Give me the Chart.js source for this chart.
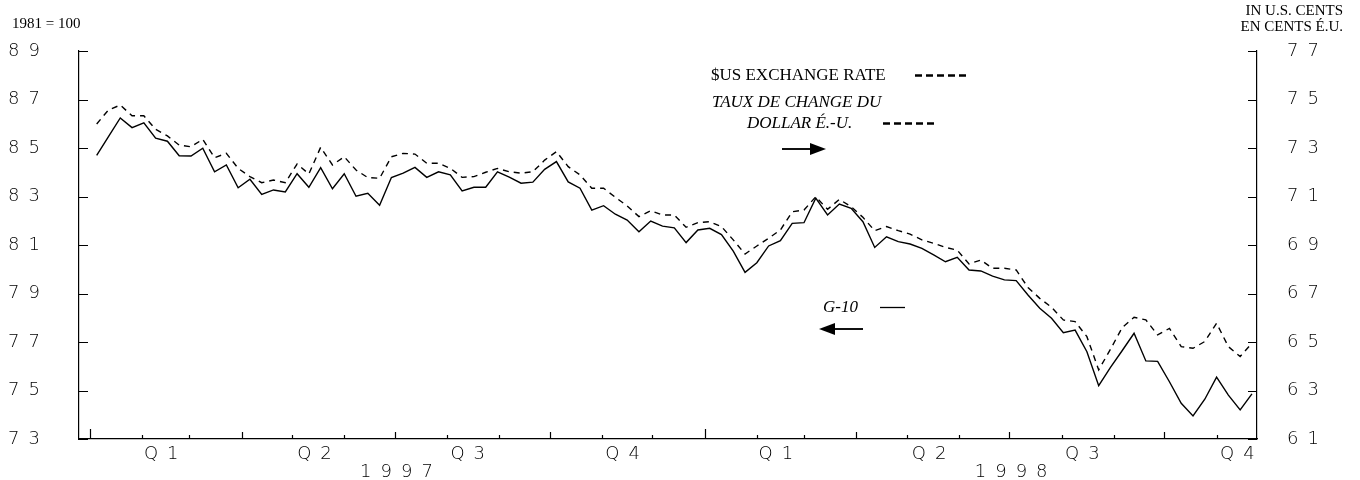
<!DOCTYPE html>
<html>
<head>
<meta charset="utf-8">
<script src="https://cdn.jsdelivr.net/npm/chart.js@4.4.1/dist/chart.umd.min.js"></script>
<style>
  html, body { margin: 0; padding: 0; background: #fff; }
  #wrap { width: 1360px; height: 480px; position: relative; }
</style>
</head>
<body>
<div id="wrap"><canvas id="chart"></canvas></div>
<script>
// G-10 index, 1981 = 100 (left axis), weekly
const g10 = [
  84.70, 85.47, 86.24, 85.84, 86.04, 85.41, 85.28, 84.68, 84.67, 84.99,
  84.02, 84.30, 83.36, 83.71, 83.09, 83.27, 83.19, 83.94, 83.38, 84.19,
  83.32, 83.94, 83.01, 83.13, 82.64, 83.78, 83.96, 84.20, 83.79, 84.02,
  83.89, 83.23, 83.38, 83.38, 84.02, 83.80, 83.55, 83.59, 84.12, 84.44,
  83.60, 83.34, 82.44, 82.62, 82.27, 82.03, 81.55, 81.99, 81.78, 81.71,
  81.10, 81.62, 81.69, 81.43, 80.75, 79.87, 80.27, 80.96, 81.18, 81.89,
  81.92, 82.93, 82.24, 82.69, 82.51, 81.96, 80.90, 81.34, 81.14, 81.04,
  80.86, 80.59, 80.31, 80.49, 79.97, 79.93, 79.72, 79.56, 79.53, 78.94,
  78.39, 77.98, 77.38, 77.49, 76.60, 75.20, 75.95, 76.65, 77.36, 76.22,
  76.20, 75.36, 74.47, 73.95, 74.64, 75.55, 74.81, 74.20, 74.86
];

// $US exchange rate in U.S. cents (right axis), weekly
const usd = [
  73.99, 74.57, 74.77, 74.33, 74.33, 73.77, 73.50, 73.12, 73.05, 73.36,
  72.60, 72.78, 72.16, 71.82, 71.57, 71.68, 71.57, 72.34, 71.93, 73.03,
  72.30, 72.64, 72.09, 71.78, 71.75, 72.64, 72.78, 72.75, 72.37, 72.37,
  72.16, 71.79, 71.82, 72.00, 72.16, 72.02, 71.96, 72.02, 72.50, 72.85,
  72.23, 71.89, 71.34, 71.34, 70.97, 70.61, 70.17, 70.41, 70.24, 70.24,
  69.73, 69.92, 69.96, 69.76, 69.21, 68.63, 68.96, 69.28, 69.62, 70.37,
  70.44, 70.99, 70.47, 70.88, 70.58, 70.14, 69.59, 69.76, 69.59, 69.45,
  69.21, 69.07, 68.90, 68.79, 68.22, 68.38, 68.04, 68.04, 67.97, 67.25,
  66.80, 66.43, 65.91, 65.84, 65.22, 63.85, 64.70, 65.60, 66.02, 65.91,
  65.29, 65.56, 64.81, 64.74, 65.02, 65.77, 64.81, 64.40, 64.95
];

// time axis in days from 1 Jan 1997
const FIRST_DAY = 4;
const WEEK = 7;
const monthStarts = [0, 31, 59, 90, 120, 151, 181, 212, 243, 273, 304, 334,
  365, 396, 424, 455, 485, 516, 546, 577, 608, 638, 669];
const quarterStarts = [0, 90, 181, 273, 365, 455, 546, 638];
const quarterMids = [45, 136, 227, 319, 410, 501, 592, 684];
const quarterLabels = ["Q1", "Q2", "Q3", "Q4", "Q1", "Q2", "Q3", "Q4"];
const yearStarts = [0, 365];
const yearMids = [182, 547];
const yearLabels = ["1997", "1998"];

const SPACING = 9;
const tickFont = { family: "'DejaVu Sans', sans-serif", size: 18, weight: 300 };

const toPoints = (arr) => arr.map((v, i) => ({ x: FIRST_DAY + WEEK * i, y: v }));

function arrow(ctx, x1, x2, y, dir) {
  // dir 1 = pointing right, -1 = pointing left; x2 is the tip
  ctx.beginPath();
  ctx.moveTo(x1, y);
  ctx.lineTo(x2 - dir * 14, y);
  ctx.lineWidth = 2;
  ctx.strokeStyle = "#111";
  ctx.stroke();
  ctx.beginPath();
  ctx.moveTo(x2, y);
  ctx.lineTo(x2 - dir * 16, y - 6);
  ctx.lineTo(x2 - dir * 16, y + 6);
  ctx.closePath();
  ctx.fillStyle = "#000";
  ctx.fill();
}

const decor = {
  id: "decor",
  beforeDraw(chart) {
    chart.ctx.letterSpacing = SPACING + "px";
  },
  afterDraw(chart) {
    const { ctx, chartArea: a, scales } = chart;
    ctx.save();
    ctx.letterSpacing = "0px";
    ctx.strokeStyle = "#000";
    ctx.lineWidth = 1.2;

    // inward y ticks
    ctx.beginPath();
    scales.y.ticks.forEach(t => {
      const y = Math.round(scales.y.getPixelForValue(t.value)) + 0.5;
      ctx.moveTo(a.left, y); ctx.lineTo(a.left + 9, y);
    });
    scales.y2.ticks.forEach(t => {
      const y = Math.round(scales.y2.getPixelForValue(t.value)) + 0.5;
      ctx.moveTo(a.right, y); ctx.lineTo(a.right - 9, y);
    });
    // month / quarter / year ticks on the time axis
    monthStarts.forEach(d => {
      const x = Math.round(scales.x.getPixelForValue(d)) + 0.5;
      let len = 4;
      if (quarterStarts.includes(d)) len = 7;
      if (yearStarts.includes(d)) len = 10;
      ctx.moveTo(x, a.bottom); ctx.lineTo(x, a.bottom - len);
    });
    ctx.stroke();

    // year labels
    ctx.fillStyle = "#000";
    ctx.font = "300 18px 'DejaVu Sans', sans-serif";
    ctx.textAlign = "center";
    ctx.textBaseline = "middle";
    ctx.letterSpacing = SPACING + "px";
    yearLabels.forEach((lab, i) => {
      ctx.fillText(lab, scales.x.getPixelForValue(yearMids[i]) + SPACING / 2, 472);
    });
    ctx.letterSpacing = "0px";

    // axis captions
    ctx.font = "15px 'Liberation Serif', serif";
    ctx.textAlign = "left";
    ctx.textBaseline = "alphabetic";
    ctx.fillText("1981 = 100", 12, 28);
    ctx.textAlign = "right";
    ctx.font = "15px 'Liberation Serif', serif";
    ctx.fillText("IN U.S. CENTS", 1343, 15);
    ctx.fillText("EN CENTS \u00c9.U.", 1343, 31);

    // legend notes
    ctx.textAlign = "left";
    ctx.font = "17px 'Liberation Serif', serif";
    ctx.fillText("$US EXCHANGE RATE", 711, 80);
    ctx.font = "italic 17px 'Liberation Serif', serif";
    ctx.fillText("TAUX DE CHANGE DU", 712, 107);
    ctx.fillText("DOLLAR \u00c9.-U.", 747, 128);
    ctx.fillText("G-10", 823, 312);

    ctx.lineWidth = 2.5;
    ctx.setLineDash([7, 4]);
    ctx.beginPath();
    ctx.moveTo(915, 75.5); ctx.lineTo(968, 75.5);
    ctx.moveTo(883, 123.5); ctx.lineTo(934, 123.5);
    ctx.stroke();
    ctx.setLineDash([]);
    ctx.lineWidth = 1.3;
    ctx.beginPath();
    ctx.moveTo(880, 307.5); ctx.lineTo(905, 307.5);
    ctx.stroke();

    arrow(ctx, 782, 826, 149, 1);
    arrow(ctx, 863, 819, 329, -1);
    ctx.restore();
  }
};

new Chart(document.getElementById("chart"), {
  type: "line",
  data: {
    datasets: [
      {
        label: "G-10",
        data: toPoints(g10),
        yAxisID: "y",
        borderColor: "#000",
        borderWidth: 1.4,
        pointRadius: 0,
        tension: 0,
      },
      {
        label: "$US exchange rate",
        data: toPoints(usd),
        yAxisID: "y2",
        borderColor: "#000",
        borderWidth: 1.4,
        borderDash: [6, 5],
        pointRadius: 0,
        tension: 0,
      },
    ],
  },
  options: {
    responsive: true,
    maintainAspectRatio: false,
    animation: false,
    layout: { padding: { top: 51, left: 8, right: 0, bottom: 0 } },
    plugins: { legend: { display: false }, tooltip: { enabled: false } },
    scales: {
      x: {
        type: "linear",
        position: "bottom",
        min: -6.5,
        max: 693,
        grid: { display: false, drawTicks: false },
        border: { color: "#000", width: 1.2 },
        afterBuildTicks: (s) => { s.ticks = quarterMids.map(v => ({ value: v })); },
        afterFit: (s) => { s.height = 41; },
        ticks: {
          autoSkip: false,
          maxRotation: 0,
          padding: 5,
          color: "#000",
          font: tickFont,
          callback: (v, i) => quarterLabels[i],
        },
      },
      y: {
        position: "left",
        min: 73,
        max: 89,
        grid: { display: false, drawTicks: false },
        border: { color: "#000", width: 1.2 },
        afterFit: (s) => { s.width = 71; },
        ticks: { stepSize: 2, crossAlign: "far", color: "#000", font: tickFont },
      },
      y2: {
        position: "right",
        min: 61,
        max: 77,
        grid: { display: false, drawTicks: false },
        border: { color: "#000", width: 1.2 },
        afterFit: (s) => { s.width = 103; },
        ticks: { stepSize: 2, padding: 30, color: "#000", font: tickFont },
      },
    },
  },
  plugins: [decor],
});
</script>
</body>
</html>
